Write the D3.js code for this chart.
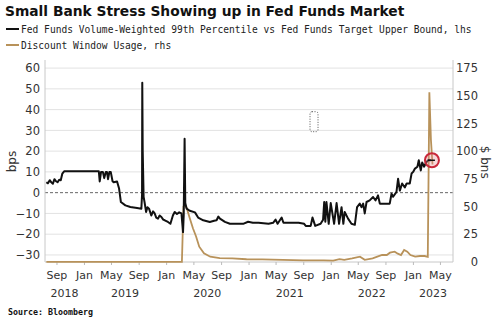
<!DOCTYPE html>
<html>
<head>
<meta charset="utf-8">
<script src="https://cdn.jsdelivr.net/npm/d3@7"></script>
<style>
  body { margin: 0; background: #fff; }
  svg { display: block; }
</style>
</head>
<body>
<div id="chart"></div>
<script>
// Fed funds 99th percentile minus target upper bound (bps, left axis)
const ffDates = [
  "2018-07-18","2018-07-25","2018-08-02","2018-08-09","2018-08-16","2018-08-23","2018-08-30",
  "2018-09-06","2018-09-13","2018-09-20","2018-09-27","2018-10-05","2019-03-08","2019-03-12",
  "2019-03-18","2019-03-26","2019-04-01","2019-04-08","2019-04-13","2019-04-18","2019-04-24",
  "2019-04-30","2019-05-08","2019-05-13","2019-05-28","2019-06-06","2019-06-14","2019-07-04",
  "2019-07-26","2019-08-25","2019-09-13","2019-09-16","2019-09-17","2019-09-19","2019-09-23",
  "2019-09-27","2019-10-04","2019-10-10","2019-10-17","2019-10-27","2019-11-04","2019-11-11",
  "2019-11-18","2019-11-26","2019-12-03","2019-12-11","2019-12-19","2019-12-26","2020-01-09",
  "2020-01-20","2020-01-31","2020-02-08","2020-02-18","2020-02-28","2020-03-09","2020-03-16",
  "2020-03-19","2020-03-23","2020-03-26","2020-04-01","2020-04-15","2020-05-08","2020-05-22",
  "2020-06-14","2020-07-13","2020-08-01","2020-08-12","2020-08-20","2020-08-27","2020-09-18",
  "2020-10-10","2020-11-09","2020-12-08","2020-12-30","2021-01-20","2021-02-14","2021-03-31",
  "2021-04-20","2021-05-01","2021-05-10","2021-05-28","2021-06-05","2021-08-11","2021-09-05",
  "2021-09-12","2021-10-04","2021-10-12","2021-10-24","2021-11-17","2021-11-28","2021-12-03",
  "2021-12-08","2021-12-13","2021-12-23","2022-01-01","2022-01-16","2022-01-27","2022-02-07",
  "2022-02-18","2022-02-26","2022-03-04","2022-03-19","2022-04-03","2022-04-18","2022-04-28",
  "2022-05-10","2022-05-18","2022-05-25","2022-06-01","2022-06-09","2022-06-23","2022-07-08",
  "2022-07-19","2022-07-30","2022-08-07","2022-09-20","2022-09-28","2022-10-05","2022-10-20",
  "2022-10-27","2022-11-04","2022-11-14","2022-11-26","2022-12-04","2022-12-18","2022-12-26",
  "2023-01-02","2023-01-10","2023-01-21","2023-01-27","2023-02-05","2023-02-11","2023-02-20",
  "2023-02-28","2023-03-10","2023-03-22"
];
const ffSpread = [
  5, 4.5, 6, 5, 4.3, 6.5, 5.5,
  5, 6.2, 6, 9.2, 10.3, 10.3, 5.4,
  10, 10, 7, 10, 10, 6.5, 10,
  10, 5.5, 5, 5.4, 2, -4.5, -6.1,
  -6.9, -7.4, -7.7, -1, 53, 20, -2,
  -4.5, -9.3, -7, -7.7, -11, -9, -10,
  -12, -12.5, -11, -11.7, -13, -13.3, -14.1,
  -15, -11, -9.3, -10.3, -9.5, -10, -19,
  -11, 26, -5, -7.7, -8.7, -9.5, -12,
  -13.3, -14.1, -13.5, -13.3, -11.5, -12.5, -14.1,
  -15, -15, -15, -14, -14.5, -14.5, -15,
  -14.5, -13, -15, -12, -14.5, -14.5, -15,
  -16, -16, -12, -16, -15, -13, -4.5,
  -14, -4.5, -15, -5, -15, -5, -15,
  -7, -15, -9.3, -12.5, -15, -15.5, -7,
  -5.3, -7, -5.3, -10, -4.5, -3.7, -2.1,
  -3.7, -1.3, -5.3, -5.3, -0.5, -2, 0.4,
  6.7, 1, 4.4, 2.5, 4.4, 4.4, 9.2,
  10, 11.6, 12.5, 15.6, 10.7, 14.5, 12.5,
  14.5, 15.6, 15.6
];

// Discount window usage ($ bns, right axis)
const dwDates = [
  "2018-07-18","2019-01-02","2019-07-03","2020-01-01","2020-03-11","2020-03-18","2020-03-25",
  "2020-04-01","2020-04-15","2020-04-29","2020-05-13","2020-05-27","2020-06-17","2020-07-15",
  "2020-08-26","2020-10-21","2020-12-23","2021-03-03","2021-06-02","2021-09-01","2021-12-01",
  "2022-01-12","2022-02-09","2022-03-02","2022-04-06","2022-05-11","2022-06-01","2022-07-06",
  "2022-07-27","2022-08-17","2022-09-07","2022-09-21","2022-10-12","2022-10-26","2022-11-09",
  "2022-11-23","2022-12-07","2022-12-21","2023-01-11","2023-02-01","2023-02-22","2023-03-08",
  "2023-03-15","2023-03-22","2023-03-29"
];
const dwUsage = [
  0.2, 0.2, 0.2, 0.2, 0.2, 50, 51,
  49, 39.4, 30.4, 23, 13.8, 7.8, 4.8,
  3.5, 3.3, 2.5, 2.3, 2, 1.5, 1.5,
  1.2, 2.5, 2, 3.3, 4.8, 2, 3.3,
  4.8, 6.3, 6.3, 8.4, 9.3, 7.5, 6.3,
  10.8, 9.3, 6.3, 4.8, 5.4, 5.4, 4.6,
  153, 110, 88
];

const leftTicks = [-30, -20, -10, 0, 10, 20, 30, 40, 50, 60];
const rightTicks = [0, 25, 50, 75, 100, 125, 150, 175];
const years = [2018, 2019, 2020, 2021, 2022, 2023];

const title = "Small Bank Stress Showing up in Fed Funds Market";
const legendItems = [
  { label: "Fed Funds Volume-Weighted 99th Percentile vs Fed Funds Target Upper Bound, lhs", color: "#111" },
  { label: "Discount Window Usage, rhs", color: "#b8925a" }
];

const width = 500, height = 326;
const plot = { left: 45, right: 453, top: 60, bottom: 262 };
const parse = d3.timeParse("%Y-%m-%d");

const ffData = d3.zip(ffDates, ffSpread).map(([d, v]) => ({ date: parse(d), value: v }));
const dwData = d3.zip(dwDates, dwUsage).map(([d, v]) => ({ date: parse(d), value: v }));

const svg = d3.select("#chart").append("svg")
  .attr("width", width)
  .attr("height", height);

const x = d3.scaleTime()
  .domain([parse("2018-07-12"), parse("2023-06-28")])
  .range([plot.left, plot.right]);
const yL = d3.scaleLinear().domain([-33.4, 63.9]).range([plot.bottom, plot.top]);
const yR = d3.scaleLinear().domain([0, 182.2]).range([plot.bottom, plot.top]);

// title + legend
svg.append("text")
  .attr("x", 5).attr("y", 16)
  .attr("font-family", "DejaVu Sans, sans-serif")
  .attr("font-weight", "bold")
  .attr("font-size", 13.8)
  .attr("fill", "#111")
  .text(title);

const legend = svg.append("g");
legendItems.forEach((item, i) => {
  const ly = 29 + i * 16;
  legend.append("line")
    .attr("x1", 6).attr("x2", 19).attr("y1", ly).attr("y2", ly)
    .attr("stroke", item.color).attr("stroke-width", 2);
  legend.append("text")
    .attr("x", 21).attr("y", ly + 3.5)
    .attr("font-family", "DejaVu Sans Mono, monospace")
    .attr("font-size", 9.6)
    .attr("fill", "#222")
    .text(item.label);
});

// grid
svg.append("g").selectAll("line")
  .data(leftTicks.filter(d => d !== 0))
  .join("line")
  .attr("x1", plot.left).attr("x2", plot.right)
  .attr("y1", d => yL(d)).attr("y2", d => yL(d))
  .attr("stroke", "#e2e2e2");

svg.append("line")
  .attr("x1", plot.left).attr("x2", plot.right)
  .attr("y1", yL(0)).attr("y2", yL(0))
  .attr("stroke", "#666")
  .attr("stroke-dasharray", "3,2");

// frame
svg.append("path")
  .attr("d", `M${plot.left},${plot.top}V${plot.bottom}H${plot.right}V${plot.top}`)
  .attr("fill", "none")
  .attr("stroke", "#c8c8c8");

// axes
const axisFont = "DejaVu Sans, sans-serif";
const gL = svg.append("g")
  .attr("transform", `translate(${plot.left},0)`)
  .call(d3.axisLeft(yL).tickValues(leftTicks).tickSize(0).tickPadding(5));
gL.select(".domain").remove();
gL.selectAll("text").attr("font-family", axisFont).attr("font-size", 11.5).attr("fill", "#333");

const gR = svg.append("g")
  .attr("transform", `translate(${plot.right},0)`)
  .call(d3.axisRight(yR).tickValues(rightTicks).tickSize(0));
gR.select(".domain").remove();
gR.selectAll("text")
  .attr("x", 25)
  .attr("text-anchor", "end")
  .attr("font-family", axisFont).attr("font-size", 11.5).attr("fill", "#333");

const gX = svg.append("g")
  .attr("transform", `translate(0,${plot.bottom})`)
  .call(d3.axisBottom(x)
    .ticks(d3.timeMonth.every(4))
    .tickFormat(d3.timeFormat("%b"))
    .tickSize(3)
    .tickPadding(6));
gX.select(".domain").remove();
gX.selectAll("line").attr("stroke", "#bbb");
gX.selectAll("text").attr("font-family", axisFont).attr("font-size", 11).attr("fill", "#333");

svg.append("g").selectAll("text")
  .data(years)
  .join("text")
  .attr("x", d => {
    const a = Math.max(x(new Date(d, 0, 1)), plot.left);
    const b = Math.min(x(new Date(d + 1, 0, 1)), plot.right);
    return (a + b) / 2;
  })
  .attr("y", 297)
  .attr("text-anchor", "middle")
  .attr("font-family", axisFont).attr("font-size", 11).attr("fill", "#333")
  .text(d => d);

svg.append("text")
  .attr("transform", `translate(16,${(yL(20) + yL(10)) / 2}) rotate(-90)`)
  .attr("text-anchor", "middle")
  .attr("font-family", axisFont).attr("font-size", 12).attr("fill", "#333")
  .text("bps");

svg.append("text")
  .attr("transform", `translate(481,${yR(90)}) rotate(90)`)
  .attr("text-anchor", "middle")
  .attr("font-family", axisFont).attr("font-size", 12).attr("fill", "#333")
  .text("$ bns");

// series
svg.append("path")
  .datum(dwData)
  .attr("fill", "none")
  .attr("stroke", "#b8925a")
  .attr("stroke-width", 1.8)
  .attr("d", d3.line().x(d => x(d.date)).y(d => yR(d.value)));

svg.append("path")
  .datum(ffData)
  .attr("fill", "none")
  .attr("stroke", "#111")
  .attr("stroke-width", 2)
  .attr("stroke-linejoin", "round")
  .attr("d", d3.line().x(d => x(d.date)).y(d => yL(d.value)));

// highlight circle on last point
const last = ffData[ffData.length - 1];
svg.append("circle")
  .attr("cx", x(last.date) + 1).attr("cy", yL(last.value))
  .attr("r", 7)
  .attr("fill", "rgba(235,140,150,0.35)")
  .attr("stroke", "#c9283a")
  .attr("stroke-width", 2);
svg.append("line")
  .attr("x1", x(last.date) - 3).attr("x2", x(last.date) + 4)
  .attr("y1", yL(last.value)).attr("y2", yL(last.value))
  .attr("stroke", "#111").attr("stroke-width", 1.5);

// small dotted marker box in the plot
svg.append("rect")
  .attr("x", x(parse("2021-10-01"))).attr("y", yL(39))
  .attr("width", 8).attr("height", 20).attr("rx", 2)
  .attr("fill", "none")
  .attr("stroke", "#555")
  .attr("stroke-dasharray", "1,1.5");

// source
svg.append("text")
  .attr("x", 8).attr("y", 315)
  .attr("font-family", "DejaVu Sans Mono, monospace")
  .attr("font-weight", "bold")
  .attr("font-size", 8.3)
  .attr("fill", "#111")
  .text("Source: Bloomberg");
</script>
</body>
</html>
